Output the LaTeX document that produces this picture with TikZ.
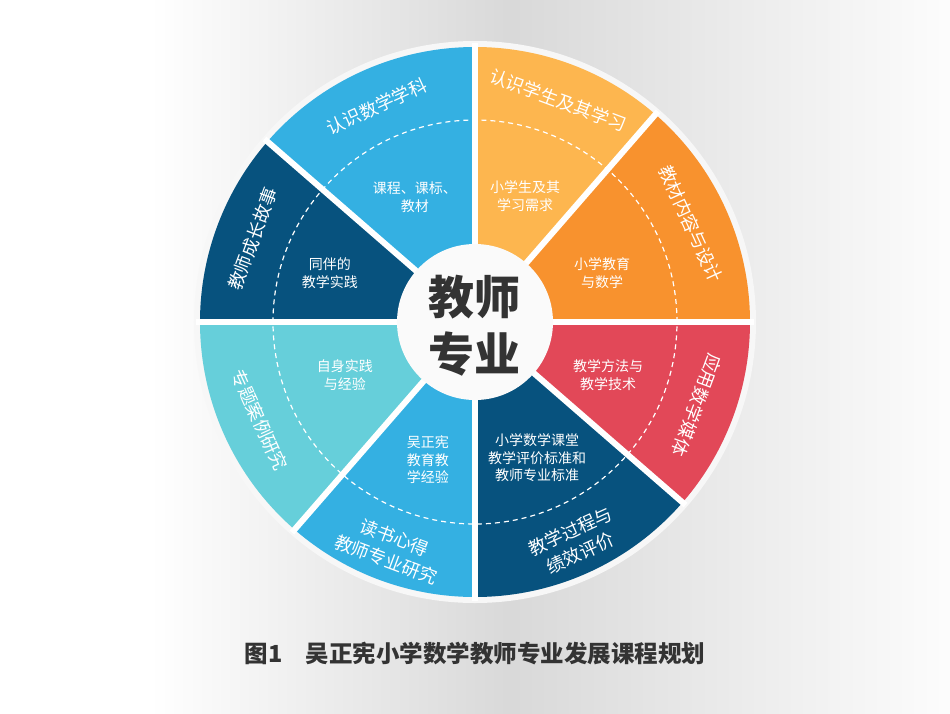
\documentclass[tikz,border=0pt]{standalone}
\usepackage{fontspec}
\setmainfont{Noto Sans CJK SC}
\usepackage{tikz}
\definecolor{skyblue}{RGB}{52,176,226}
\definecolor{sunyellow}{RGB}{253,182,79}
\definecolor{deeporange}{RGB}{248,146,46}
\definecolor{rosered}{RGB}{226,72,88}
\definecolor{navyblue}{RGB}{7,82,126}
\definecolor{lightteal}{RGB}{102,207,218}
\definecolor{titlegray}{RGB}{51,51,51}
\tikzset{
  ringlabel/.style={text=white,align=center,inner sep=0pt,font=\fontsize{18}{24}\selectfont},
  innerlabel/.style={text=white,align=center,inner sep=0pt,font=\fontsize{14}{17.5}\selectfont},
  gapline/.style={draw=white,line width=6pt},
  midring/.style={draw=white,line width=1.2pt,dash pattern=on 5pt off 4pt},
  hubtext/.style={text=titlegray,align=center,inner sep=0pt,font=\bfseries\fontsize{46}{57}\selectfont},
  captiontext/.style={text=titlegray,inner sep=0pt,font=\bfseries\fontsize{23.5}{28}\selectfont}
}
\begin{document}
\begin{tikzpicture}[x=1pt,y=1pt]
  \useasboundingbox (-475,-391) rectangle (475,322);
  % background
  \fill[white] (-475,-391) rectangle (475,322);
  \shade[left color=white,right color=black!15] (-325,-391) rectangle (35,322);
  \shade[left color=black!15,right color=black!1] (35,-391) rectangle (475,322);
  \fill[black!3] (0,0) circle (281);
  % sectors
  \foreach \a/\b/\c in {49/90/sunyellow,0/49/deeporange,-41/0/rosered,-90/-41/navyblue,
                        -131/-90/skyblue,-180/-131/lightteal,139/180/navyblue,90/139/skyblue}
    \fill[\c] (0,0) -- (\a:275) arc[start angle=\a,end angle=\b,radius=275] -- cycle;
  \draw[midring] (0,0) circle (202);
  \foreach \a in {90,49,0,-41,-90,-131,180,139}
    \draw[gapline] (0,0) -- (\a:279);
  \fill[black!2] (0,0) circle (78);
  % outer ring texts
  \foreach \m/\r/\t/\n in {69.5/-20.5/{认识学生及其学习}/1,24.5/-65.5/{教材内容与设计}/2,
                           -20.5/-110.5/{应用数学媒体}/3,159.5/69.5/{教师成长故事}/7,
                           114.5/24.5/{认识数学学科}/8,-155.5/-65.5/{专题案例研究}/6}
    \node[ringlabel,rotate=\r] (ring\n) at (\m:237) {\t};
  \node[ringlabel,rotate=24.5] (ring4) at (-65.5:242) {教学过程与\\绩效评价};
  \node[ringlabel,rotate=-20.5] (ring5) at (-110.5:242) {读书心得\\教师专业研究};
  % inner texts
  \node[innerlabel] (inner1) at (50,126) {小学生及其\\学习需求};
  \node[innerlabel] (inner2) at (127,49) {小学教育\\与数学};
  \node[innerlabel] (inner3) at (133,-53) {教学方法与\\教学技术};
  \node[innerlabel] (inner4) at (62,-136) {小学数学课堂\\教学评价标准和\\教师专业标准};
  \node[innerlabel] (inner5) at (-47,-138) {吴正宪\\教育教\\学经验};
  \node[innerlabel] (inner6) at (-130,-53) {自身实践\\与经验};
  \node[innerlabel] (inner7) at (-145,49) {同伴的\\教学实践};
  \node[innerlabel] (inner8) at (-60,125) {课程、课标、\\教材};
  \node[hubtext] (hub) at (0,-4) {教师\\专业};
  \node[captiontext] (caption) at (0,-332) {图1　吴正宪小学数学教师专业发展课程规划};
\end{tikzpicture}
\end{document}
